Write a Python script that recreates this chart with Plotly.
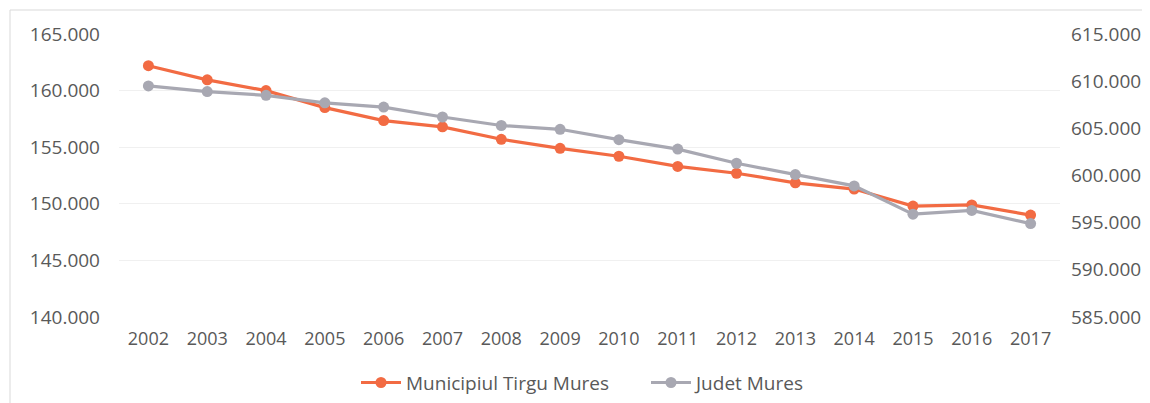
import plotly.graph_objects as go

years = [2002, 2003, 2004, 2005, 2006, 2007, 2008, 2009, 2010, 2011, 2012, 2013, 2014, 2015, 2016, 2017]
tirgu_mures = [162200, 160950, 160000, 158500, 157350, 156800, 155700, 154900, 154200, 153300, 152700, 151850, 151300, 149800, 149900, 149000]
judet_mures = [609500, 608900, 608500, 607700, 607250, 606200, 605300, 604900, 603800, 602800, 601300, 600100, 598900, 595900, 596300, 594900]

left_ticks = [140000, 145000, 150000, 155000, 160000, 165000]
right_ticks = [585000, 590000, 595000, 600000, 605000, 610000, 615000]

def fmt(v):
    return f"{v:,}".replace(",", ".")

FONT = "Open Sans"
TICK_COLOR = "#595959"

fig = go.Figure()
fig.add_trace(go.Scatter(
    x=years, y=tirgu_mures, name="Municipiul Tirgu Mures", mode="lines+markers",
    line=dict(color="#F26B43", width=3.2), marker=dict(color="#F26B43", size=11),
    yaxis="y"))
fig.add_trace(go.Scatter(
    x=years, y=judet_mures, name="Judet Mures", mode="lines+markers",
    line=dict(color="#A8A8B2", width=3.2), marker=dict(color="#A8A8B2", size=11),
    yaxis="y2"))

L, T, W, H = 111, 26, 941, 283
fig.update_layout(
    width=1150, height=403,
    margin=dict(l=L, r=1150 - L - W, t=T, b=403 - T - H, autoexpand=False),
    paper_bgcolor="white", plot_bgcolor="white",
    font=dict(family=FONT, color=TICK_COLOR),
    showlegend=True,
    legend=dict(orientation="h", x=(348 - L) / W, xanchor="left", y=-0.232, yanchor="middle",
                font=dict(size=19, color=TICK_COLOR), itemwidth=40,
                entrywidth=235, entrywidthmode="pixels"),
    xaxis=dict(range=[2001.5, 2017.5], tickvals=years, ticktext=[str(y) for y in years],
               showgrid=False, zeroline=False, showline=False, ticks="", automargin=False,
               tickfont=dict(size=18, color=TICK_COLOR), ticklabelstandoff=9),
    yaxis=dict(range=[140000, 165000], tickvals=left_ticks, ticktext=[fmt(v) for v in left_ticks],
               showgrid=True, gridcolor="#f0f0f0", zeroline=False, showline=False, ticks="",
               automargin=False,
               tickfont=dict(size=19, color=TICK_COLOR), ticklabelstandoff=18),
    yaxis2=dict(range=[585000, 615000], tickvals=right_ticks, ticktext=[fmt(v) for v in right_ticks],
                overlaying="y", side="right", showgrid=False, zeroline=False, showline=False,
                ticks="", automargin=False,
                tickfont=dict(size=19, color=TICK_COLOR), ticklabelstandoff=10),
    shapes=[dict(type="rect", xref="paper", yref="paper",
                 x0=(2 - L) / W, x1=1.3, y0=-0.6, y1=(T + H - 2) / H,
                 line=dict(color="#d9d9d9", width=1), fillcolor="rgba(0,0,0,0)", layer="below")],
)

fig.write_html("out.html")
